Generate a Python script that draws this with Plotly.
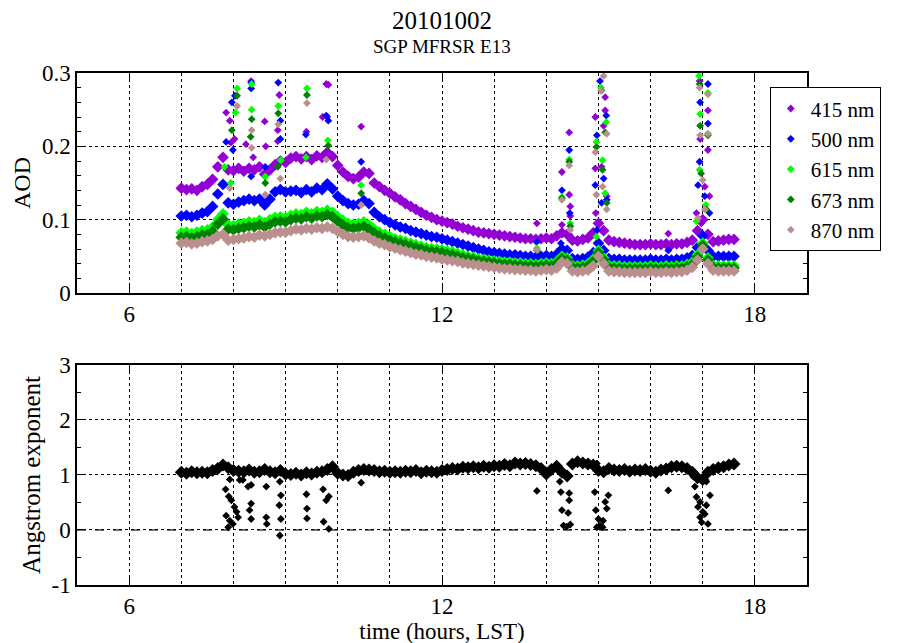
import plotly.graph_objects as go
from plotly.subplots import make_subplots

FONT = "Liberation Serif"

# time grid (hours, LST), one row per hour
t_grid = [
    7.0, 7.1, 7.2, 7.3, 7.4, 7.5, 7.6, 7.7, 7.8, 7.9,
    8.0, 8.1, 8.2, 8.3, 8.4, 8.5, 8.6, 8.7, 8.8, 8.9,
    9.0, 9.1, 9.2, 9.3, 9.4, 9.5, 9.6, 9.7, 9.8, 9.9,
    10.0, 10.1, 10.2, 10.3, 10.4, 10.5, 10.6, 10.7, 10.8, 10.9,
    11.0, 11.1, 11.2, 11.3, 11.4, 11.5, 11.6, 11.7, 11.8, 11.9,
    12.0, 12.1, 12.2, 12.3, 12.4, 12.5, 12.6, 12.7, 12.8, 12.9,
    13.0, 13.1, 13.2, 13.3, 13.4, 13.5, 13.6, 13.7, 13.8, 13.9,
    14.0, 14.1, 14.2, 14.3, 14.4, 14.5, 14.6, 14.7, 14.8, 14.9,
    15.0, 15.1, 15.2, 15.3, 15.4, 15.5, 15.6, 15.7, 15.8, 15.9,
    16.0, 16.1, 16.2, 16.3, 16.4, 16.5, 16.6, 16.7, 16.8, 16.9,
    17.0, 17.1, 17.2, 17.3, 17.4, 17.5, 17.6,
]

aod_415 = [
    .143, .141, .142, .140, .145, .148, .155, .172, .185, .168,
    .167, .170, .166, .170, .168, .172, .162, .168, .175, .180,
    .178, .184, .186, .183, .186, .182, .187, .185, .192, .186,
    .174, .165, .159, .156, .158, .165, .163, .150, .145, .140,
    .136, .131, .127, .122, .118, .114, .110, .106, .103, .100,
    .098, .096, .094, .091, .089, .087, .085, .083, .082, .081,
    .080, .079, .078, .077, .076, .075, .074, .074, .073, .074,
    .075, .074, .078, .082, .080, .072, .071, .073, .075, .082,
    .095, .085, .072, .070, .069, .068, .067, .066, .066, .066,
    .067, .066, .066, .067, .066, .067, .067, .069, .072, .085,
    .100, .080, .070, .071, .072, .073, .073,
]
aod_500 = [
    .105, .106, .104, .106, .109, .111, .118, .135, .148, .123,
    .121, .124, .126, .128, .126, .128, .120, .128, .138, .141,
    .138, .139, .140, .137, .141, .138, .143, .141, .149, .142,
    .132, .126, .122, .120, .121, .126, .122, .110, .104, .100,
    .096, .093, .090, .088, .085, .083, .081, .079, .077, .076,
    .074, .072, .070, .068, .066, .064, .062, .060, .058, .056,
    .055, .054, .053, .052, .052, .051, .050, .050, .049, .050,
    .051, .050, .053, .060, .058, .047, .046, .047, .049, .055,
    .068, .058, .047, .046, .046, .045, .045, .045, .045, .045,
    .046, .045, .045, .046, .045, .046, .046, .048, .051, .062,
    .078, .058, .050, .050, .050, .050, .050,
]
aod_615 = [
    .082, .083, .081, .083, .085, .086, .090, .100, .108, .093,
    .092, .094, .095, .097, .096, .099, .096, .100, .103, .104,
    .103, .106, .108, .107, .110, .108, .111, .110, .113, .110,
    .104, .099, .095, .094, .095, .097, .093, .087, .083, .080,
    .077, .074, .072, .070, .068, .066, .064, .062, .061, .060,
    .059, .057, .056, .054, .052, .050, .049, .047, .046, .045,
    .044, .043, .042, .042, .041, .041, .040, .040, .039, .040,
    .041, .040, .043, .050, .048, .038, .037, .038, .040, .046,
    .058, .048, .038, .037, .037, .036, .036, .036, .036, .036,
    .037, .036, .036, .037, .036, .037, .037, .039, .042, .052,
    .068, .048, .038, .037, .037, .037, .037,
]
aod_673 = [
    .076, .077, .075, .077, .079, .080, .084, .094, .101, .087,
    .086, .088, .089, .091, .090, .093, .090, .094, .097, .098,
    .097, .100, .102, .101, .104, .102, .105, .104, .107, .104,
    .098, .093, .089, .088, .089, .091, .087, .082, .078, .075,
    .072, .070, .068, .066, .064, .062, .060, .058, .057, .056,
    .055, .053, .052, .050, .048, .047, .046, .044, .043, .042,
    .041, .040, .039, .039, .038, .038, .037, .037, .036, .037,
    .038, .037, .040, .047, .045, .035, .034, .035, .037, .043,
    .055, .045, .035, .034, .034, .033, .033, .033, .033, .033,
    .034, .033, .033, .034, .033, .034, .034, .036, .039, .049,
    .065, .045, .035, .034, .034, .034, .034,
]
aod_870 = [
    .068, .069, .067, .068, .070, .071, .073, .078, .080, .072,
    .073, .074, .075, .077, .076, .079, .078, .080, .082, .083,
    .083, .085, .087, .086, .088, .087, .089, .088, .090, .088,
    .084, .080, .077, .076, .077, .078, .075, .071, .068, .066,
    .063, .061, .059, .057, .055, .053, .052, .050, .049, .048,
    .046, .045, .044, .043, .041, .040, .039, .038, .037, .036,
    .035, .034, .033, .033, .032, .032, .031, .031, .030, .031,
    .032, .031, .034, .042, .040, .030, .029, .030, .031, .037,
    .050, .040, .030, .029, .029, .028, .028, .028, .028, .028,
    .029, .028, .028, .029, .028, .029, .029, .031, .035, .045,
    .060, .040, .031, .030, .030, .030, .030,
]

# cloud-contaminated / spike points
spk_415_t = [7.86, 7.93, 7.95, 8.02, 8.24, 8.34, 8.38, 8.60, 8.62, 8.85, 8.85, 8.88, 9.40, 9.71,
             9.78, 9.80, 9.82, 10.45, 13.82, 14.30, 14.30, 14.44, 14.44, 14.46, 14.46, 14.94,
             14.94, 14.95, 15.06, 15.10, 15.13, 15.13, 15.16, 16.34, 16.88, 16.94, 16.95, 16.97,
             17.04, 17.10, 17.10, 17.13]
spk_415_v = [.246, .235, .205, .210, .203, .289, .185, .234, .200, .222, .207, .270, .220, .240,
             .285, .240, .284, .227, .095, .165, .093, .219, .134, .118, .105, .240,
             .170, .109, .172, .228, .267, .249, .132, .081, .109, .289, .210, .095,
             .145, .249, .195, .132]
spk_500_t = [7.86, 7.97, 7.99, 8.03, 8.34, 8.34, 8.34, 8.61, 8.86, 8.90, 8.90, 9.39, 9.78, 9.82,
             10.45, 13.82, 14.28, 14.30, 14.44, 14.45, 14.94, 14.97, 14.97, 15.03, 15.06, 15.10,
             15.15, 15.16, 16.34, 16.91, 16.94, 16.95, 17.04, 17.10, 17.10, 17.13]
spk_500_v = [.206, .260, .195, .269, .287, .279, .159, .172, .287, .235, .210, .216, .242, .235,
             .179, .070, .068, .140, .195, .109, .147, .215, .086, .289, .123, .156,
             .242, .127, .058, .147, .179, .260, .132, .285, .231, .109]
spk_615_t = [7.83, 7.95, 8.04, 8.07, 8.35, 8.35, 8.61, 8.86, 8.91, 9.39, 9.41, 9.81, 10.45, 13.82,
             14.30, 14.44, 14.46, 14.96, 14.96, 15.05, 15.08, 15.13, 15.15, 16.88, 16.93, 16.94,
             16.95, 17.06, 17.10, 17.10]
spk_615_v = [.172, .150, .246, .279, .285, .250, .159, .255, .181, .185, .279, .208, .147, .061,
             .131, .182, .095, .206, .077, .280, .181, .136, .233, .098, .296, .168,
             .244, .120, .273, .217]
spk_673_t = [7.97, 8.07, 8.33, 8.35, 8.61, 8.85, 8.86, 9.41, 9.82, 10.45, 13.82, 14.30, 14.44,
             14.46, 14.96, 15.06, 15.08, 15.13, 15.16, 16.94, 16.95, 16.97, 17.07, 17.10]
spk_673_v = [.222, .269, .213, .237, .150, .172, .245, .270, .201, .136, .058, .129, .179,
             .091, .199, .276, .168, .219, .123, .285, .228, .163, .114, .215]
spk_870_t = [7.93, 8.07, 8.35, 8.35, 8.61, 8.86, 8.90, 9.41, 9.78, 10.45, 13.82, 14.30, 14.44,
             14.46, 14.94, 14.96, 15.05, 15.08, 15.10, 15.16, 15.16, 16.91, 16.94, 16.95, 17.00,
             17.04, 17.10, 17.10]
spk_870_v = [.143, .255, .222, .198, .134, .230, .156, .259, .182, .120, .059, .127, .174,
             .086, .192, .134, .276, .145, .296, .217, .114, .102, .280, .215, .154,
             .114, .271, .217]

angstrom = [
    1.05, 1.03, 1.06, 1.04, 1.05, 1.04, 1.08, 1.12, 1.18, 1.13,
    1.08, 1.07, 1.06, 1.09, 1.05, 1.06, 1.10, 1.06, 1.04, 1.08,
    1.02, 1.01, 1.03, 1.00, 1.04, 1.02, 1.05, 1.06, 1.10, 1.15,
    1.03, 1.00, 0.99, 1.05, 1.08, 1.10, 1.09, 1.08, 1.06, 1.07,
    1.05, 1.06, 1.05, 1.07, 1.06, 1.08, 1.04, 1.07, 1.06, 1.05,
    1.08, 1.10, 1.12, 1.11, 1.14, 1.13, 1.15, 1.13, 1.16, 1.14,
    1.17, 1.16, 1.19, 1.17, 1.22, 1.20, 1.21, 1.19, 1.17, 1.12,
    1.02, 1.10, 1.16, 1.05, 0.98, 1.20, 1.24, 1.22, 1.20, 1.18,
    1.08, 1.06, 1.12, 1.09, 1.08, 1.10, 1.07, 1.09, 1.08, 1.10,
    1.07, 1.05, 1.09, 1.11, 1.15, 1.16, 1.15, 1.12, 1.05, 0.95,
    0.92, 1.05, 1.10, 1.13, 1.15, 1.18, 1.20,
]
ang_out_t = [7.85, 7.93, 7.91, 7.96, 8.02, 7.86, 7.93, 7.90, 7.99, 8.06, 8.09, 8.12, 8.18, 8.28,
             8.34, 8.34, 8.31, 8.34, 8.63, 8.63, 8.64, 8.89, 8.91, 8.88, 8.91, 8.89, 9.40, 9.41,
             9.41, 9.72, 9.78, 9.83, 9.73, 9.83, 10.45, 13.82, 14.26, 14.28, 14.44, 14.44, 14.30,
             14.42, 14.33, 14.39, 14.46, 14.26, 14.97, 14.93, 14.95, 15.00, 15.03, 15.09, 15.13,
             15.16, 15.19, 15.08, 14.97, 16.34, 16.82, 16.85, 16.88, 16.91, 16.95, 16.98, 17.04,
             17.07, 17.10, 17.14, 17.07, 17.02, 16.95, 17.00]
ang_out_v = [.74, .92, .61, .54, .42, .26, .17, .05, .11, .33, .23, .91, .91, .79,
             .82, .48, .36, .20, .79, .23, .11, .88, .63, .45, .20, -.10, .65, .39,
             .21, .74, .54, .61, .15, .02, .86, .71, .88, .69, .67, .54, .36,
             .31, .08, .06, .10, 1.09, 1.21, .69, .36, .20, .08, .17, .51,
             .39, .63, .05, .05, .72, .97, .79, .60, .42, .23, .14, .29,
             .45, .11, .63, .88, .97, .51, .33]

ang_ticks = [-1, 0, 1, 2, 3]
ang_ticklabels = ["-1", "0", "1", "2", "3"]

series = [
    ("415 nm", "#9400D3", aod_415, spk_415_t, spk_415_v),
    ("500 nm", "#0000FF", aod_500, spk_500_t, spk_500_v),
    ("615 nm", "#00FF00", aod_615, spk_615_t, spk_615_v),
    ("673 nm", "#008000", aod_673, spk_673_t, spk_673_v),
    ("870 nm", "#BC8F8F", aod_870, spk_870_t, spk_870_v),
]

fig = make_subplots(rows=2, cols=1)

for name, col, base, st, sv in series:
    fig.add_trace(go.Scatter(x=t_grid, y=base, mode="markers", legendgroup=name, showlegend=False,
                             marker=dict(symbol="diamond", size=9, color=col)), row=1, col=1)
    fig.add_trace(go.Scatter(x=st, y=sv, mode="markers", name=name, legendgroup=name,
                             marker=dict(symbol="diamond", size=6, color=col)), row=1, col=1)

fig.add_trace(go.Scatter(x=t_grid, y=angstrom, mode="markers", showlegend=False,
                         marker=dict(symbol="diamond", size=10, color="black")), row=2, col=1)
fig.add_trace(go.Scatter(x=ang_out_t, y=ang_out_v, mode="markers", showlegend=False,
                         marker=dict(symbol="diamond", size=6, color="black")), row=2, col=1)

# dashed zero reference line in the lower panel
fig.add_shape(type="line", xref="x2 domain", x0=0, x1=1, yref="y2", y0=0, y1=0,
              line=dict(color="#444444", width=1.5, dash="dash"), layer="below")

axis_common = dict(showline=True, mirror="ticks", linecolor="black", linewidth=1.5,
                   ticks="inside", ticklen=8, tickcolor="black", zeroline=False,
                   showgrid=True, gridcolor="black", griddash="dot", gridwidth=1,
                   tickfont=dict(family=FONT, size=23, color="black"))

fig.update_xaxes(range=[5, 19], tick0=0, dtick=6,
                 minor=dict(tick0=0, dtick=1, showgrid=True, gridcolor="black",
                            griddash="dot", gridwidth=1),
                 **axis_common)
fig.update_xaxes(domain=[0, 1], row=1, col=1)
fig.update_xaxes(domain=[0, 1], row=2, col=1,
                 title=dict(text="time (hours, LST)", font=dict(family=FONT, size=23, color="black"),
                            standoff=0))

fig.update_yaxes(domain=[0.5703, 1], range=[0, 0.3], tick0=0, dtick=0.1,
                 minor=dict(tick0=0, dtick=0.02, ticks="inside", ticklen=4, tickcolor="black"),
                 title=dict(text="AOD", font=dict(family=FONT, size=24, color="black"), standoff=4),
                 row=1, col=1, **axis_common)
fig.update_yaxes(domain=[0, 0.4297], range=[-1, 3], tickmode="array",
                 tickvals=ang_ticks, ticktext=ang_ticklabels,
                 minor=dict(tickmode="linear", tick0=0, dtick=0.5, ticks="inside", ticklen=4,
                            tickcolor="black"),
                 title=dict(text="Angstrom exponent", font=dict(family=FONT, size=25, color="black"),
                            standoff=4),
                 row=2, col=1, **axis_common)

fig.add_annotation(text="20101002", x=0.5, xref="paper", y=1.1035, yref="paper",
                   showarrow=False, yanchor="middle", font=dict(family=FONT, size=25, color="black"))
fig.add_annotation(text="SGP MFRSR E13", x=0.5, xref="paper", y=1.0508, yref="paper",
                   showarrow=False, yanchor="middle", font=dict(family=FONT, size=19, color="black"))

# the page body adds an 8px offset, so margins are shifted to keep the plot where the reference has it
fig.update_layout(
    width=899, height=643,
    margin=dict(l=69, r=100, t=65, b=66, autoexpand=False),
    paper_bgcolor="white", plot_bgcolor="white",
    font=dict(family=FONT, color="black"),
    legend=dict(x=0.949, y=0.972, xanchor="left", yanchor="top",
                bgcolor="white", bordercolor="black", borderwidth=1,
                font=dict(family=FONT, size=21, color="black"), tracegroupgap=0),
)

fig.write_html("out.html")
